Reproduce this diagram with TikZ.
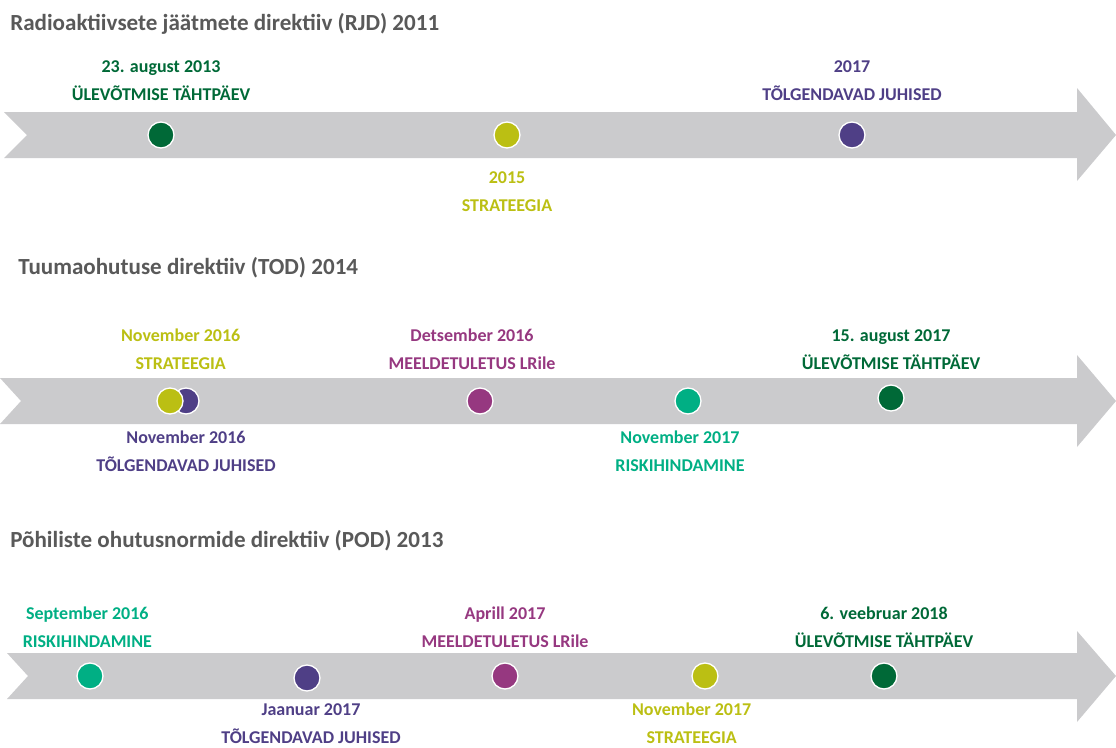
\documentclass[tikz,border=0pt]{standalone}
\usepackage{fontspec}
\setmainfont{Carlito}
\usetikzlibrary{positioning}
\definecolor{cDark}{RGB}{0,105,55}
\definecolor{cOlive}{RGB}{187,191,19}
\definecolor{cViolet}{RGB}{79,63,134}
\definecolor{cPlum}{RGB}{150,56,128}
\definecolor{cTeal}{RGB}{0,175,132}
\definecolor{cBand}{RGB}{203,203,205}
\definecolor{cTitle}{RGB}{89,89,89}
\tikzstyle{dot}=[circle,draw=white,line width=1pt,minimum size=19.5pt,inner sep=0pt]
\tikzstyle{lbl}=[align=center,inner sep=0pt,font=\bfseries\fontsize{13.5}{21}\selectfont]
\tikzstyle{ttl}=[anchor=west,inner sep=0pt,text=cTitle,font=\bfseries\fontsize{17.3}{20}\selectfont]
\tikzstyle{band}=[fill=cBand]

\begin{document}
\begin{tikzpicture}[x=0.75pt,y=-0.75pt]
\useasboundingbox (0,0) rectangle (1116,747);
% RJD
\node[ttl] (rjd) at (10,24) {Radioaktiivsete jäätmete direktiiv (RJD) 2011};
\fill[band] (4,112) -- (1077,112) -- (1077,88) -- (1116,135) -- (1077,181) -- (1077,158) -- (4,158) -- (27,135) -- cycle;
\node[dot,fill=cDark] (r1) at (161,135) {};
\node[dot,fill=cOlive] (r2) at (507,135) {};
\node[dot,fill=cViolet] (r3) at (852,135) {};
\node[lbl,text=cDark,above=15.5pt of r1] (lr1) {23. august 2013\\ÜLEVÕTMISE TÄHTPÄEV};
\node[lbl,text=cOlive,below=17pt of r2] (lr2) {2015\\STRATEEGIA};
\node[lbl,text=cViolet,above=15.5pt of r3] (lr3) {2017\\TÕLGENDAVAD JUHISED};
% TOD
\node[ttl] (tod) at (18,268) {Tuumaohutuse direktiiv (TOD) 2014};
\fill[band] (0,378) -- (1077,378) -- (1077,355) -- (1116,401) -- (1077,447) -- (1077,424) -- (0,424) -- (21,401) -- cycle;
\node[dot,fill=cViolet] (t2) at (186,401) {};
\node[dot,fill=cOlive] (t1) at (170,401) {};
\node[dot,fill=cPlum] (t3) at (480,401) {};
\node[dot,fill=cTeal] (t4) at (688,401) {};
\node[dot,fill=cDark] (t5) at (891,398) {};
\node[lbl,text=cOlive,above=13pt of t1,xshift=8pt] (lt1) {November 2016\\STRATEEGIA};
\node[lbl,text=cViolet,below=12pt of t2] (lt2) {November 2016\\TÕLGENDAVAD JUHISED};
\node[lbl,text=cPlum,above=13pt of t3,xshift=-6pt] (lt3) {Detsember 2016\\MEELDETULETUS LRile};
\node[lbl,text=cTeal,below=12pt of t4,xshift=-6pt] (lt4) {November 2017\\RISKIHINDAMINE};
\node[lbl,text=cDark,above=11pt of t5] (lt5) {15. august 2017\\ÜLEVÕTMISE TÄHTPÄEV};
% POD
\node[ttl] (pod) at (10,541) {Põhiliste ohutusnormide direktiiv (POD) 2013};
\fill[band] (7,653) -- (1077,653) -- (1077,631) -- (1116,676) -- (1077,722) -- (1077,699) -- (7,699) -- (28,676) -- cycle;
\node[dot,fill=cTeal] (p1) at (90,676) {};
\node[dot,fill=cViolet] (p2) at (307,678) {};
\node[dot,fill=cPlum] (p3) at (505,676) {};
\node[dot,fill=cOlive] (p4) at (705,676) {};
\node[dot,fill=cDark] (p5) at (884,676) {};
\node[lbl,text=cTeal,above=11pt of p1,xshift=-2pt] (lp1) {September 2016\\RISKIHINDAMINE};
\node[lbl,text=cViolet,below=8.5pt of p2,xshift=3pt] (lp2) {Jaanuar 2017\\TÕLGENDAVAD JUHISED};
\node[lbl,text=cPlum,above=11pt of p3] (lp3) {Aprill 2017\\MEELDETULETUS LRile};
\node[lbl,text=cOlive,below=10pt of p4,xshift=-10pt] (lp4) {November 2017\\STRATEEGIA};
\node[lbl,text=cDark,above=11pt of p5] (lp5) {6. veebruar 2018\\ÜLEVÕTMISE TÄHTPÄEV};
\end{tikzpicture}
\end{document}
